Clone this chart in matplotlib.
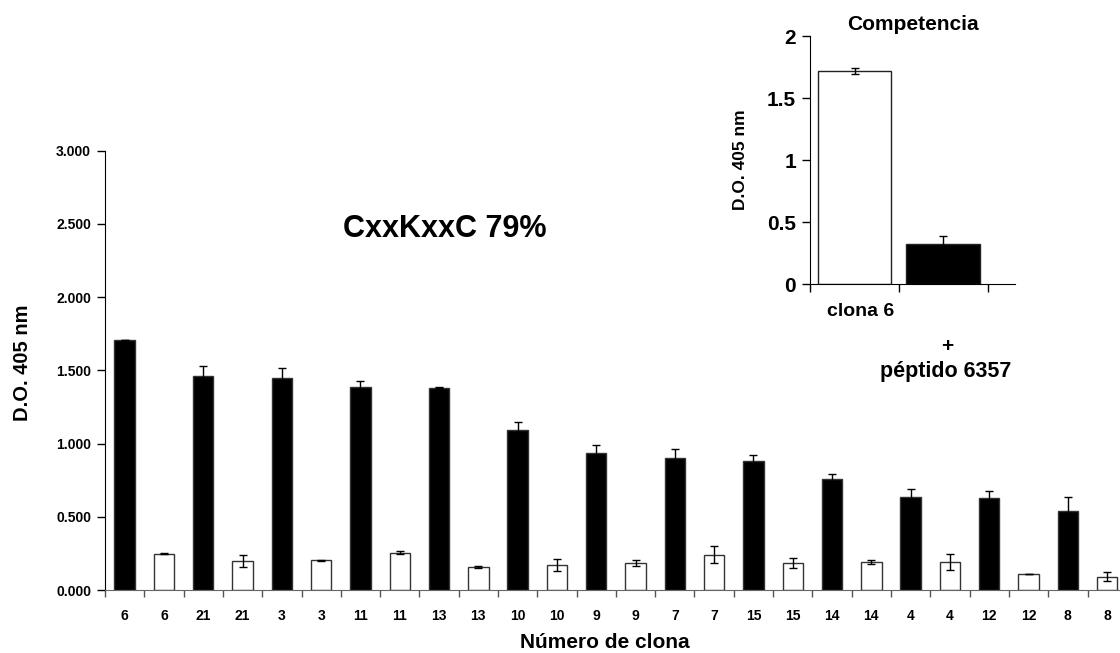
import numpy as np
import matplotlib.pyplot as plt

plt.rcParams['font.family'] = ['Liberation Sans', 'DejaVu Sans']
plt.rcParams['font.weight'] = 'bold'

# clone ELISA readings, each clone tested twice (filled / open bar)
clones = ["6", "6", "21", "21", "3", "3", "11", "11", "13", "13", "10", "10", "9",
          "9", "7", "7", "15", "15", "14", "14", "4", "4", "12", "12", "8", "8"]
od = [1.705, 0.248, 1.459, 0.198, 1.446, 0.203, 1.389, 0.255, 1.382, 0.157,
      1.091, 0.171, 0.934, 0.184, 0.902, 0.241, 0.883, 0.184, 0.756, 0.191,
      0.638, 0.191, 0.631, 0.109, 0.540, 0.091]
od_err = [0.0, 0.005, 0.068, 0.042, 0.073, 0.005, 0.036, 0.010, 0.005, 0.004,
          0.055, 0.042, 0.059, 0.018, 0.064, 0.060, 0.039, 0.035, 0.039, 0.015,
          0.055, 0.054, 0.046, 0.003, 0.093, 0.032]
filled = [i % 2 == 0 for i in range(len(clones))]

# competition assay
comp_labels = ["clona 6", "+ péptido 6357"]
comp_od = [1.72, 0.327]
comp_err = [0.023, 0.06]

fig = plt.figure(figsize=(11.2, 6.53), dpi=100)

ax = fig.add_axes([105 / 1120, 1 - 590 / 653, 26 * 39.3 / 1120, 439.3 / 653])
x = np.arange(len(clones))
colors = ['black' if f else 'white' for f in filled]
ax.bar(x, od, width=0.52, color=colors, edgecolor='#333333', linewidth=1, zorder=2)
ax.errorbar(x, od, yerr=od_err, fmt='none', ecolor='black', elinewidth=1,
            capsize=3, capthick=1, zorder=3)

ax.set_xlim(-0.5, len(clones) - 0.5)
ax.set_ylim(0, 3)
ax.set_yticks(np.arange(0, 3.01, 0.5))
ax.set_yticklabels([f"{v:.3f}" for v in np.arange(0, 3.01, 0.5)], fontsize=10, fontweight='bold')
ax.set_xticks(np.arange(-0.5, len(clones), 1.0))
ax.set_xticklabels([])
ax.set_xticks(x, minor=True)
ax.set_xticklabels(clones, minor=True, fontsize=10, fontweight='bold')
ax.tick_params(axis='x', which='major', direction='out', length=5, width=1, color='#555555')
ax.tick_params(axis='x', which='minor', length=0, pad=14)
ax.tick_params(axis='y', direction='out', length=6, width=1, pad=4)
for side in ['top', 'right']:
    ax.spines[side].set_visible(False)
ax.spines['bottom'].set_color('#666666')
ax.spines['left'].set_color('black')

fig.text(23 / 1120, 1 - 363 / 653, "D.O. 405 nm", rotation=90, ha='center', va='center',
         fontsize=14.5, fontweight='bold')
fig.text(605 / 1120, 1 - 642 / 653, "Número de clona", ha='center', va='center',
         fontsize=15, fontweight='bold')
fig.text(445 / 1120, 1 - 229 / 653, "CxxKxxC 79%", ha='center', va='center',
         fontsize=22, fontweight='bold')

# inset: competition with peptide
ins = fig.add_axes([810 / 1120, 1 - 284.3 / 653, 205 / 1120, 248.3 / 653])
xi = np.arange(len(comp_od))
ins.bar(xi, comp_od, width=0.83, color=['white', 'black'], edgecolor='#222222',
        linewidth=1, zorder=2)
ins.errorbar(xi, comp_od, yerr=comp_err, fmt='none', ecolor='black', elinewidth=1,
             capsize=3, capthick=1, zorder=3)
ins.set_xlim(-0.502, 1.81)
ins.set_ylim(0, 2)
ins.set_yticks([0, 0.5, 1, 1.5, 2])
ins.set_yticklabels(["0", "0.5", "1", "1.5", "2"], fontsize=15, fontweight='bold')
ins.set_xticks([-0.5, 0.5, 1.5])
ins.set_xticklabels([])
ins.tick_params(axis='x', direction='out', length=6, width=1)
ins.tick_params(axis='y', direction='out', length=6, width=1, pad=4)
for side in ['top', 'right']:
    ins.spines[side].set_visible(False)
ins.set_title("Competencia", fontsize=15, fontweight='bold', pad=4)
ins.set_ylabel("D.O. 405 nm", fontsize=12.5, fontweight='bold', labelpad=14)

fig.text(861 / 1120, 1 - 311 / 653, comp_labels[0], ha='center', va='center',
         fontsize=14, fontweight='bold')
plus, pep = comp_labels[1].split(" ", 1)
fig.text(947 / 1120, 1 - 346 / 653, plus, ha='center', va='center',
         fontsize=15, fontweight='bold')
fig.text(946 / 1120, 1 - 372 / 653, pep, ha='center', va='center',
         fontsize=15.5, fontweight='bold')

fig.savefig("out.png", dpi=100, facecolor='white')
